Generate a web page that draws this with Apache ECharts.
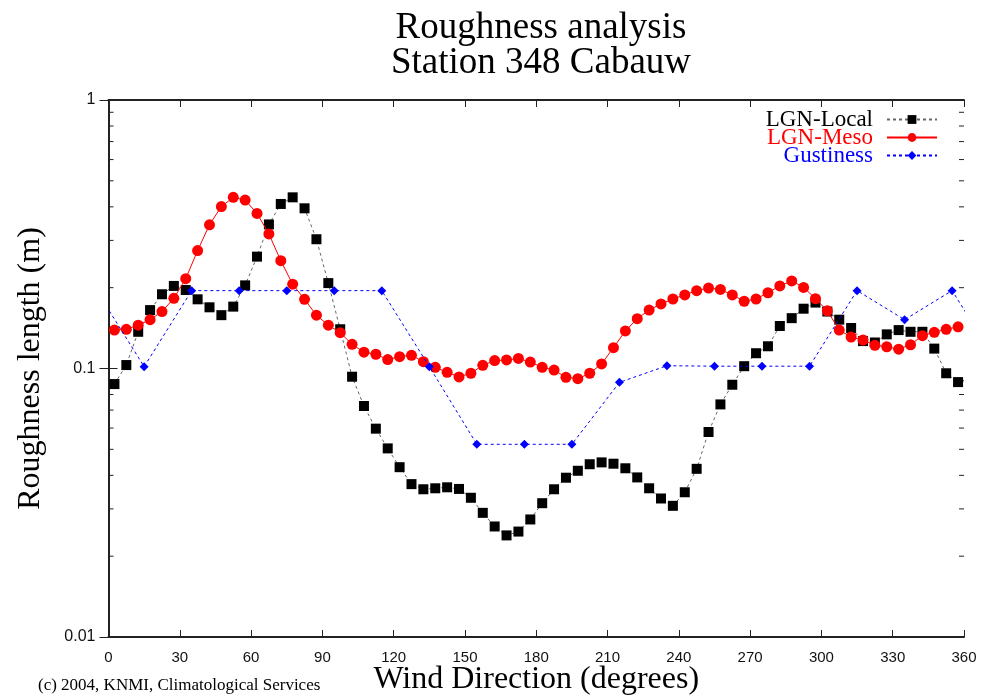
<!DOCTYPE html>
<html>
<head>
<meta charset="utf-8">
<title>Roughness analysis</title>
<script src="https://cdn.jsdelivr.net/npm/echarts@6/dist/echarts.min.js"></script>
<style>
  html, body { margin: 0; padding: 0; background: #fff; }
  #chart { width: 983px; height: 696px; }
</style>
</head>
<body>
<div id="chart"></div>
<script>
// wind direction sectors (degrees) for the 5-degree series
const dirs = [
  2.5, 7.5, 12.5, 17.5, 22.5, 27.5, 32.5, 37.5, 42.5, 47.5, 52.5, 57.5,
  62.5, 67.5, 72.5, 77.5, 82.5, 87.5, 92.5, 97.5, 102.5, 107.5, 112.5, 117.5,
  122.5, 127.5, 132.5, 137.5, 142.5, 147.5, 152.5, 157.5, 162.5, 167.5, 172.5, 177.5,
  182.5, 187.5, 192.5, 197.5, 202.5, 207.5, 212.5, 217.5, 222.5, 227.5, 232.5,
  237.5, 242.5, 247.5, 252.5, 257.5, 262.5, 267.5, 272.5, 277.5, 282.5, 287.5, 292.5,
  297.5, 302.5, 307.5, 312.5, 317.5, 322.5, 327.5, 332.5, 337.5, 342.5, 347.5, 352.5, 357.5
]
const localVal = [
  0.0875, 0.103, 0.137, 0.165, 0.189, 0.203, 0.196, 0.181, 0.169, 0.158, 0.170, 0.204,
  0.261, 0.344, 0.410, 0.434, 0.395, 0.303, 0.208, 0.140, 0.0932, 0.0725, 0.0597, 0.0504,
  0.0429, 0.0371, 0.0355, 0.0358, 0.0361, 0.0356, 0.033, 0.029, 0.0258, 0.0239, 0.0247, 0.0274,
  0.0315, 0.0355, 0.0392, 0.0416, 0.044, 0.0447, 0.0442, 0.0425, 0.0393, 0.0358, 0.0328,
  0.0308, 0.0346, 0.0423, 0.058, 0.0735, 0.087, 0.102, 0.114, 0.121, 0.144, 0.154, 0.167,
  0.176, 0.163, 0.152, 0.1415, 0.1265, 0.125, 0.134, 0.139, 0.137, 0.137, 0.1186, 0.096, 0.089
]
const mesoVal = [
  0.139, 0.14, 0.145, 0.152, 0.163, 0.1826, 0.216, 0.275, 0.343, 0.401, 0.434, 0.424,
  0.378, 0.317, 0.252, 0.206, 0.181, 0.158, 0.145, 0.136, 0.123, 0.115, 0.113, 0.108,
  0.1107, 0.112, 0.106, 0.101, 0.0968, 0.093, 0.096, 0.1028, 0.107, 0.1076, 0.109, 0.1057,
  0.101, 0.0987, 0.0927, 0.0916, 0.096, 0.104, 0.1196, 0.138, 0.1533, 0.165, 0.174,
  0.1815, 0.188, 0.195, 0.1994, 0.197, 0.188, 0.178, 0.1815, 0.1915, 0.203, 0.212, 0.2005,
  0.182, 0.164, 0.139, 0.131, 0.1277, 0.122, 0.1205, 0.118, 0.1226, 0.1325, 0.1364, 0.140, 0.143
]
// gustiness sectors (20 degrees), wrapped at both ends so the line runs to the frame
const gustDir = [-5, 15, 35, 55, 75, 95, 115, 135, 155, 175, 195, 215, 235, 255, 275, 295, 315, 335, 355, 375]
const gustVal = [
  0.195, 0.1016, 0.195, 0.195, 0.195, 0.195, 0.195, 0.1016, 0.0522, 0.0522,
  0.0522, 0.0888, 0.1024, 0.102, 0.102, 0.102, 0.195, 0.152, 0.195, 0.1016
]
const seriesNames = ['LGN-Local', 'LGN-Meso', 'Gustiness']
const minorTicks = [0.02, 0.03, 0.04, 0.05, 0.06, 0.07, 0.08, 0.09, 0.2, 0.3, 0.4, 0.5, 0.6, 0.7, 0.8, 0.9]

const serif = 'Liberation Serif'
const sans = 'Liberation Sans'
const frame = '#222'

const chart = echarts.init(document.getElementById('chart'))

function pairs(xs, ys) {
  return xs.map((x, i) => [x, ys[i]])
}

const xBase = {
  type: 'value',
  min: 0,
  max: 360,
  interval: 30,
  axisLine: { show: true, lineStyle: { color: frame, width: 2 } },
  axisTick: { show: true, inside: true, length: 7, lineStyle: { color: frame, width: 1 } },
  splitLine: { show: false }
}
const yBase = {
  type: 'log',
  logBase: 10,
  min: 0.01,
  max: 1,
  axisLine: { show: true, lineStyle: { color: frame, width: 2 } },
  axisTick: { show: true, inside: true, length: 9, lineStyle: { color: frame, width: 1 } },
  splitLine: { show: false }
}

chart.setOption({
  animation: false,
  backgroundColor: '#fff',
  title: {
    text: 'Roughness analysis\nStation 348 Cabauw',
    left: 536,
    textAlign: 'center',
    top: 6,
    textStyle: { fontFamily: serif, fontSize: 37, fontWeight: 'normal', color: '#000', lineHeight: 35 }
  },
  legend: {
    data: [
      { name: 'LGN-Local', textStyle: { color: '#000' } },
      { name: 'LGN-Meso', textStyle: { color: '#f00' } },
      { name: 'Gustiness', textStyle: { color: '#00f' } }
    ],
    orient: 'vertical',
    align: 'right',
    right: 40,
    top: 103,
    itemWidth: 50,
    itemHeight: 11,
    itemGap: -5,
    textStyle: { fontFamily: serif, fontSize: 23, lineHeight: 19, padding: [0, 9, 0, 0] }
  },
  grid: { left: 108.5, right: 19, top: 100, bottom: 59, outerBoundsMode: 'none', containLabel: false },
  xAxis: [
    Object.assign({}, xBase, {
      position: 'bottom',
      name: 'Wind Direction (degrees)',
      nameLocation: 'middle',
      nameGap: 27,
      nameMoveOverlap: false,
      nameTextStyle: { fontFamily: serif, fontSize: 32, color: '#000' },
      axisLabel: { margin: 13, fontFamily: sans, fontSize: 15, color: '#111' }
    }),
    Object.assign({}, xBase, { position: 'top', axisLabel: { show: false } })
  ],
  yAxis: [
    Object.assign({}, yBase, {
      position: 'left',
      name: 'Roughness length (m)',
      nameLocation: 'middle',
      nameGap: 62,
      nameMoveOverlap: false,
      nameTextStyle: { fontFamily: serif, fontSize: 32, color: '#000' },
      axisLabel: {
        margin: 13,
        fontFamily: sans,
        fontSize: 16,
        color: '#111',
        formatter: v => String(Number(v.toPrecision(3)))
      }
    }),
    Object.assign({}, yBase, { position: 'right', axisLabel: { show: false } })
  ],
  graphic: [
    {
      type: 'text',
      left: 38,
      top: 677,
      style: { text: '(c) 2004, KNMI, Climatological Services', font: '17px "Liberation Serif"', fill: '#000' }
    }
  ],
  series: [
    {
      // minor log ticks on the left and right frame, placed with the y scale
      type: 'custom',
      silent: true,
      z: 1,
      clip: false,
      data: minorTicks.map(v => [0, v]),
      renderItem(params, api) {
        const v = api.value(1)
        const l = api.coord([0, v])
        const r = api.coord([360, v])
        const st = { stroke: frame, lineWidth: 1 }
        return {
          type: 'group',
          children: [
            { type: 'line', shape: { x1: l[0], y1: l[1], x2: l[0] + 5, y2: l[1] }, style: st },
            { type: 'line', shape: { x1: r[0] - 5, y1: r[1], x2: r[0], y2: r[1] }, style: st }
          ]
        }
      }
    },
    {
      name: seriesNames[0],
      type: 'line',
      data: pairs(dirs, localVal),
      symbol: 'rect',
      symbolSize: 10,
      itemStyle: { color: '#000' },
      lineStyle: { color: '#666', width: 1, type: [3, 3] },
      z: 2
    },
    {
      name: seriesNames[1],
      type: 'line',
      data: pairs(dirs, mesoVal),
      symbol: 'circle',
      symbolSize: 11,
      itemStyle: { color: '#f00' },
      lineStyle: { color: '#f00', width: 1 },
      z: 3
    },
    {
      name: seriesNames[2],
      type: 'line',
      data: pairs(gustDir, gustVal),
      symbol: 'diamond',
      symbolSize: 9,
      clip: true,
      itemStyle: { color: '#00f' },
      lineStyle: { color: '#00f', width: 1, type: [3, 3] },
      z: 4
    }
  ]
})
</script>
</body>
</html>
